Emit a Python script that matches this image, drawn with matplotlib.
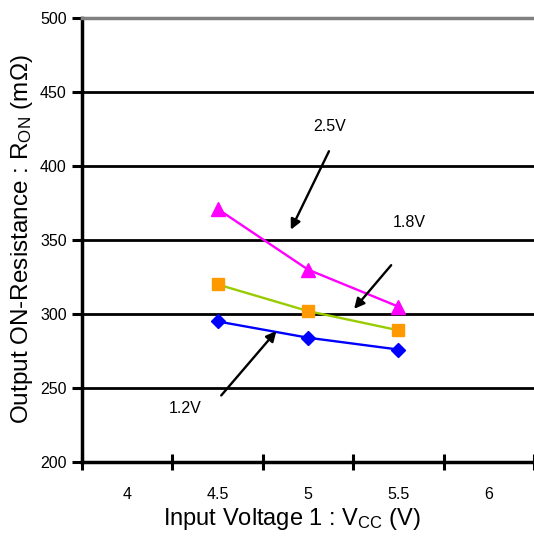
import matplotlib.pyplot as plt
from matplotlib.ticker import MultipleLocator

plt.rcParams['font.family'] = ['Liberation Sans', 'DejaVu Sans']
plt.rcParams['mathtext.fontset'] = 'custom'
plt.rcParams['mathtext.rm'] = 'Liberation Sans'

vcc = [4.5, 5.0, 5.5]
ron_25 = [371, 330, 305]
ron_18 = [320, 302, 289]
ron_12 = [295, 284, 276]

labels = ['2.5V', '1.8V', '1.2V']
label_pos = [(5.12, 427), (5.56, 361.5), (4.32, 236)]
arrow_tail = [(5.116, 410), (5.46, 333), (4.52, 245)]
arrow_head = [(4.905, 357), (5.255, 303.5), (4.825, 288.5)]


def plot_ron():
    fig = plt.figure(figsize=(5.34, 5.36), dpi=100)
    ax = fig.add_axes([0.1536, 0.138, 0.8464, 0.8284])

    ax.plot(vcc, ron_12, color='#0000FF', lw=1.7, marker='D', ms=7.5,
            mfc='#0000FF', mec='#0000FF', zorder=4)
    ax.plot(vcc, ron_18, color='#99CC00', lw=1.7, marker='s', ms=8,
            mfc='#FF9900', mec='#FF9900', zorder=4)
    ax.plot(vcc, ron_25, color='#FF00FF', lw=1.7, marker='^', ms=9.5,
            mfc='#FF00FF', mec='#FF00FF', zorder=4)

    for lab, lp, t, h in zip(labels, label_pos, arrow_tail, arrow_head):
        ax.text(lp[0], lp[1], lab, fontsize=11.5, ha='center', va='center')
        ax.annotate('', xy=h, xytext=t,
                    arrowprops=dict(arrowstyle='-|>', color='black', lw=1.7,
                                    mutation_scale=15, shrinkA=0, shrinkB=0),
                    zorder=5)

    ax.set_xlim(3.75, 6.234)
    ax.set_ylim(200, 500)
    ax.yaxis.set_major_locator(MultipleLocator(50))
    for y in [250, 300, 350, 400, 450]:
        ax.axhline(y, color='black', lw=2.0, zorder=1)

    ax.set_xticks([4, 4.5, 5, 5.5, 6])
    ax.set_xticklabels(['4', '4.5', '5', '5.5', '6'])
    ax.set_xticks([3.75, 4.25, 4.75, 5.25, 5.75, 6.25], minor=True)
    ax.tick_params(axis='x', which='major', length=0, pad=18, labelsize=11.5)
    ax.tick_params(axis='x', which='minor', direction='inout', length=12, width=2.2)
    ax.tick_params(axis='y', which='major', direction='out', length=7, width=2.2,
                   labelsize=11.5, pad=4)

    ax.spines['left'].set_linewidth(2.5)
    ax.spines['bottom'].set_linewidth(2.5)
    ax.spines['top'].set_color('#808080')
    ax.spines['top'].set_linewidth(2.5)
    ax.spines['right'].set_visible(False)

    ax.set_xlabel(r'Input Voltage 1 : V$\mathregular{_{CC}}$ (V)', fontsize=17)
    ax.set_ylabel(r'Output ON-Resistance : R$\mathregular{_{ON}}$ (m$\Omega$)', fontsize=17.5)
    ax.xaxis.set_label_coords(0.4635, -0.099)
    ax.yaxis.set_label_coords(-0.104, 0.501)

    fig.savefig('out.png', dpi=100)


if __name__ == '__main__':
    plot_ron()
